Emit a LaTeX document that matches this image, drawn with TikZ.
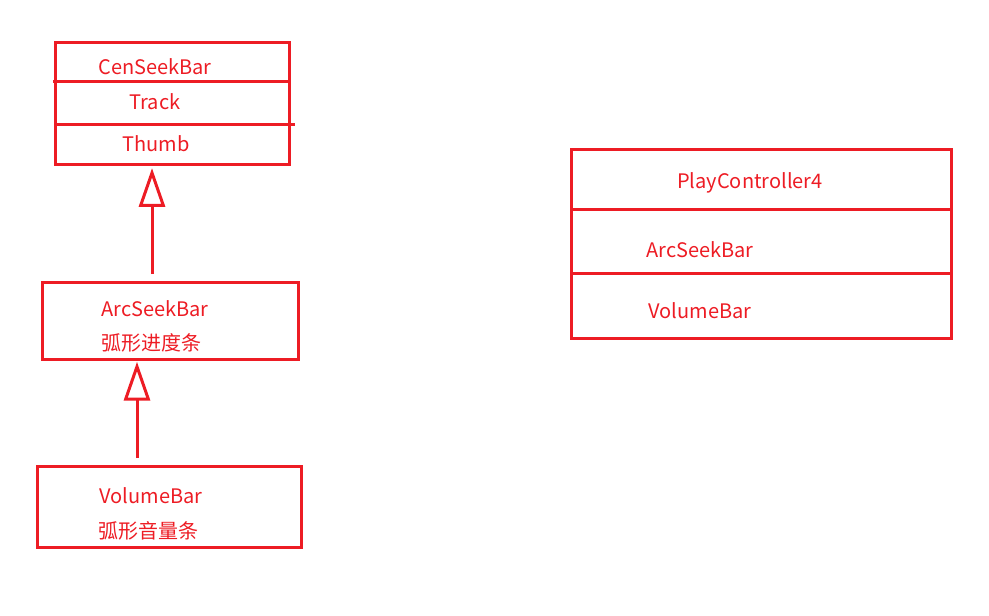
\documentclass[tikz,border=0pt]{standalone}
\usepackage{fontspec}
\setmainfont{Noto Sans CJK SC}
\usetikzlibrary{arrows.meta}
\definecolor{paintred}{RGB}{237,28,36}

\begin{document}
\begin{tikzpicture}[x=0.75pt,y=-0.75pt,
  classbox/.style={draw=paintred,line width=2.25pt,inner sep=0pt},
  divider/.style={draw=paintred,line width=2.25pt},
  txt/.style={text=paintred,inner sep=0pt,font=\fontsize{15}{18}\selectfont},
  cntxt/.style={txt,font=\fontsize{15}{18}\selectfont},
  inherit/.style={draw=paintred,line width=2.25pt,-{Triangle[open,length=29pt,width=19.5pt]}}]
  \useasboundingbox (0,0) rectangle (989,615);
%CenSeekBar
  \node[classbox,minimum width=175.5pt,minimum height=91.5pt] (cen) at (172,103) {};
  \draw[divider] (53,81) -- (289,81);
  \draw[divider] (55,124) -- (295,124);
  \node[txt] (cenname) at (155,67) {CenSeekBar};
  \node[txt] (track) at (155,102) {Track};
  \node[txt] (thumb) at (156,144) {Thumb};
%ArcSeekBar
  \node[classbox,minimum width=192pt,minimum height=57.75pt] (arc) at (170,320.5) {};
  \node[txt] (arcname) at (155,309) {ArcSeekBar};
  \node[cntxt] (arccn) at (151,343) {弧形进度条};
%VolumeBar
  \node[classbox,minimum width=198pt,minimum height=60.75pt] (vol) at (169,506.5) {};
  \node[txt] (volname) at (151,496) {VolumeBar};
  \node[cntxt] (volcn) at (148,531) {弧形音量条};
%PlayController4
  \node[classbox,minimum width=285pt,minimum height=141.75pt] (play) at (761,243.5) {};
  \draw[divider] (571,209) -- (951,209);
  \draw[divider] (571,273) -- (951,273);
  \node[txt] (playname) at (750,183) {PlayController4};
  \node[txt] (playarc) at (700,250) {ArcSeekBar};
  \node[txt] (playvol) at (700,311) {VolumeBar};
%inheritance
  \coordinate (foot1) at (152,274);
  \coordinate (foot2) at (137,458);
  \draw[inherit,shorten >=2pt] (foot1) -- (foot1 |- cen.south);
  \draw[inherit,shorten >=1pt] (foot2) -- (foot2 |- arc.south);
\end{tikzpicture}
\end{document}
